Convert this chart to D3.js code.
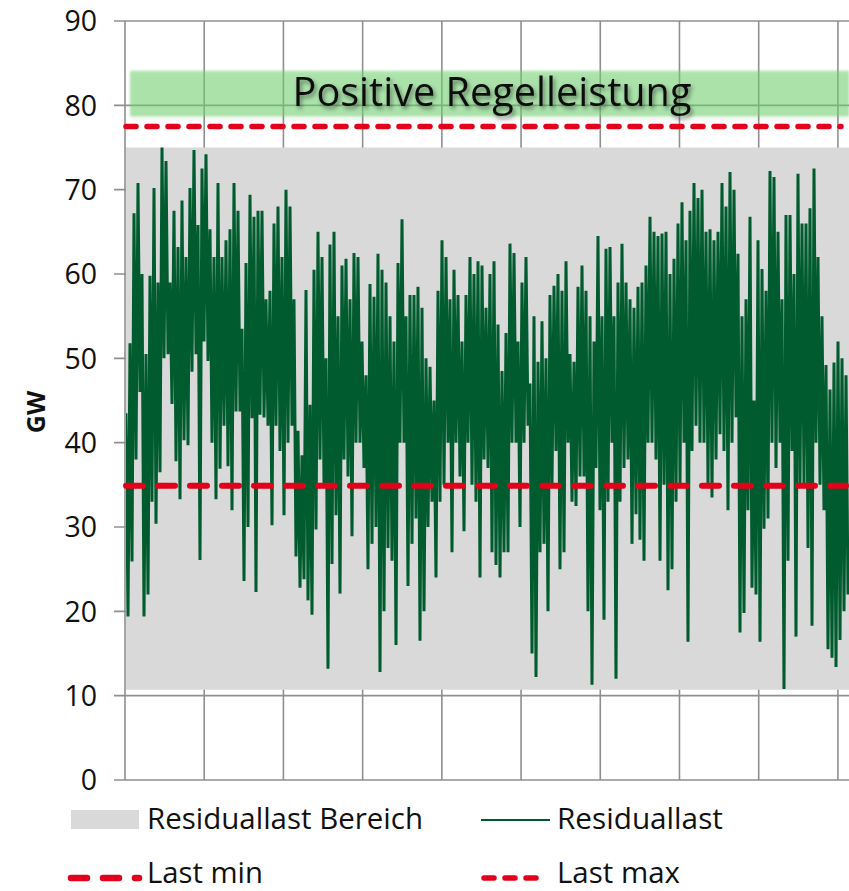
<!DOCTYPE html>
<html><head><meta charset="utf-8">
<script src="https://cdn.jsdelivr.net/npm/d3@7"></script>
<style>
html,body{margin:0;padding:0;background:#fff;}
svg{display:block;font-family:"Open Sans","Noto Sans",sans-serif;}
</style></head><body>
<svg id="chart" width="849" height="891"></svg>
<script>
// ---------------- data ----------------
const yTicks = [0, 10, 20, 30, 40, 50, 60, 70, 80, 90];
const xGridHours = [0, 1000, 2000, 3000, 4000, 5000, 6000, 7000, 8000, 9000];
const hourSpan = 9140;
const yLabel = "GW";
const bandTitle = "Positive Regelleistung";
const residualRange = [10.7, 75];      // Residuallast Bereich
const reserveBand = [78.7, 84.1];      // Positive Regelleistung
const lastMin = 34.9;
const lastMax = 77.5;
const legendLabels = ["Residuallast Bereich", "Residuallast", "Last min", "Last max"];

// Residuallast: upper and lower swing in each ~2-day window
const residualHigh = [
 43.5,51.8,67.2,70.8,60,50.5,59.8,70.2,59,75,73.4,59,67.5,63.2,68.7,62,70.2,74.7,65.8,72.5,
 74.2,65.3,62,70.8,62,64,65.3,70.8,67.5,53.5,61.3,69.4,66.8,67.5,67.5,57,58,66,68,62,
 70,68,57,41.4,38.5,58.1,44.5,60.5,65,62,50,63.5,65,55,61,61.8,57,62.5,62,52,
 48,58.8,57.3,62.4,60.5,59,55,52,61.3,66.5,55,57.5,57.5,58.5,56,50,49,45,58,64,
 62,57,60.5,57.5,52,57.5,62,60,61.5,61,56,60,61.5,54,48.5,53,63.6,62.5,52,59,
 62,47,55,49.6,54.4,50,57.5,58.6,60,58,61.5,50.5,49.6,58.5,61,58,55,52,64.5,55,
 63,63.2,55,59,63.6,59,57,56,58.5,59,61,66.8,65,64.5,64.8,65,60,61.8,66,68.5,
 64,67.5,70.8,69,70,65,65.3,64,65,70.8,68,72.1,70,62.4,55,57,66.8,45,64,60.6,
 58,72.2,71.5,65,57,67,67,60,71.9,66,66,67.8,72.5,62,55,49.2,46.3,49.5,52,50,48
];
const residualLow = [
 19.4,25.9,38,46,19.4,22,33,30.4,36.5,50,50.5,44.6,37.8,33.3,40.3,39.7,48.4,50.5,26.1,52,
 49.7,40,33.3,36.9,42,37.2,32,43.7,43.7,23.6,30,42.9,22.3,43.3,43,42,30.2,42,39,31.4,
 40,42,26.5,22.8,23.8,21.3,19.6,29.7,38,35,13.2,25.6,31.4,22.1,38,36,28.9,40,40,37,
 25,28,30,12.8,20,27.5,26,16,40,40,23,28,31,16.5,20,30,33,24,33,35,
 40,27,40,36,29.5,40,35,33,24,38,37,27,25.5,24,27,27,40,40,30,40,
 42,15,12.2,27,28,20,35,39,25,27,40,33,32.5,36,36,20,11.3,37,32,19,
 33,40,12,33,37,38,28,31.5,28.5,26,40,40,38,26,35,22.5,25,33,35,40,
 16.4,39,42,40,40,35,33.5,38,41,39,32,40,43,17.5,19.8,32,22.8,22,16.4,29.8,
 31,40,37,40,10.8,26,39,17,35,35,27.5,18.3,40,35,32,15.5,14.5,13.4,16.6,20,22
];

// ---------------- layout ----------------
const svg = d3.select("#chart");
const plot = {left: 125, right: 849, top: 21, bottom: 780};
const x = d3.scaleLinear().domain([0, hourSpan]).range([plot.left, plot.right]);
const y = d3.scaleLinear().domain([0, 90]).range([plot.bottom, plot.top]);
const gridColor = "#8f8f8f";
const red = "#e2001a";
const green = "#005c2e";

const defs = svg.append("defs");
defs.append("clipPath").attr("id", "plotClip").append("rect")
  .attr("x", plot.left + 1).attr("y", plot.top).attr("width", plot.right - plot.left).attr("height", plot.bottom - plot.top);
const fBand = defs.append("filter").attr("id", "bandShadow").attr("x", "-5%").attr("y", "-30%").attr("width", "110%").attr("height", "170%");
fBand.append("feGaussianBlur").attr("in", "SourceGraphic").attr("stdDeviation", 1.2).attr("result", "b");
fBand.append("feDropShadow").attr("in", "b").attr("dx", 1).attr("dy", 3).attr("stdDeviation", 2).attr("flood-color", "#000").attr("flood-opacity", 0.12);
const fText = defs.append("filter").attr("id", "textShadow").attr("x", "-10%").attr("y", "-30%").attr("width", "120%").attr("height", "170%");
fText.append("feDropShadow").attr("dx", 2).attr("dy", 3).attr("stdDeviation", 2).attr("flood-color", "#000").attr("flood-opacity", 0.45);

// gridlines
const grid = svg.append("g");
grid.selectAll("line.h").data(yTicks).join("line")
  .attr("x1", plot.left - 11).attr("x2", plot.right)
  .attr("y1", d => y(d)).attr("y2", d => y(d))
  .attr("stroke", gridColor).attr("stroke-width", 1.6);
grid.selectAll("line.v").data(xGridHours).join("line")
  .attr("x1", d => x(d)).attr("x2", d => x(d))
  .attr("y1", plot.top).attr("y2", plot.bottom)
  .attr("stroke", gridColor).attr("stroke-width", 1.6);

// y axis labels
const yAxis = d3.axisLeft(y).tickValues(yTicks).tickSize(0).tickPadding(0);
const gy = svg.append("g").attr("transform", `translate(${plot.left - 28},0)`).call(yAxis);
gy.select(".domain").remove();
gy.selectAll("text").style("font-size", "28.5px").attr("fill", "#111").style("font-family", '"Open Sans",sans-serif').attr("dy", "0.34em");

// gray range area
svg.append("rect")
  .attr("x", plot.left + 1).attr("width", plot.right - plot.left - 1)
  .attr("y", y(residualRange[1])).attr("height", y(residualRange[0]) - y(residualRange[1]))
  .attr("fill", "#d9d9d9");

// Residuallast line
const pts = [];
const step = hourSpan / residualHigh.length;
residualHigh.forEach((v, i) => {
  pts.push({h: i * step + step * 0.25, v: v});
  pts.push({h: i * step + step * 0.75, v: residualLow[i]});
});
svg.append("path").datum(pts)
  .attr("clip-path", "url(#plotClip)")
  .attr("d", d3.line().x(d => x(d.h)).y(d => y(d.v)))
  .attr("fill", "none").attr("stroke", green).attr("stroke-width", 3).attr("stroke-linejoin", "miter").attr("stroke-miterlimit", 1.4);

// red lines
svg.append("line")
  .attr("x1", plot.left + 1).attr("x2", plot.right - 3)
  .attr("y1", y(lastMin)).attr("y2", y(lastMin))
  .attr("stroke", red).attr("stroke-width", 6).attr("stroke-dasharray", "17,15").attr("stroke-linecap", "round");
svg.append("line")
  .attr("x1", plot.left + 1).attr("x2", plot.right - 8)
  .attr("y1", y(lastMax)).attr("y2", y(lastMax))
  .attr("stroke", red).attr("stroke-width", 5.5).attr("stroke-dasharray", "10,11").attr("stroke-linecap", "round");

// reserve band
svg.append("rect")
  .attr("x", plot.left + 5).attr("width", plot.right - plot.left - 5)
  .attr("y", y(reserveBand[1])).attr("height", y(reserveBand[0]) - y(reserveBand[1]))
  .attr("fill", "#6fd26f").attr("fill-opacity", 0.55)
  .attr("filter", "url(#bandShadow)");

function fitText(sel, target) {
  const fs = parseFloat(sel.style("font-size"));
  const w = sel.node().getComputedTextLength();
  if (w > 0) sel.style("font-size", (fs * target / w) + "px");
}

const title = svg.append("text")
  .attr("x", 492).attr("y", 106)
  .attr("text-anchor", "middle").style("font-size", "38px").attr("fill", "#111")
  .attr("filter", "url(#textShadow)")
  .text(bandTitle);
fitText(title, 399);

// y title
svg.append("text")
  .attr("x", 0).attr("y", 0)
  .attr("transform", "translate(36,412) rotate(-90)")
  .attr("text-anchor", "middle").attr("dy", "0.36em")
  .attr("font-size", 25).attr("font-weight", 700).attr("fill", "#111")
  .style("font-size", "25px").style("font-weight", "700")
  .text(yLabel);

// legend
const lg = svg.append("g");
lg.append("rect").attr("x", 71).attr("y", 810).attr("width", 68).attr("height", 19).attr("fill", "#d9d9d9");
lg.append("line").attr("x1", 481).attr("x2", 550).attr("y1", 820).attr("y2", 820).attr("stroke", green).attr("stroke-width", 2);
lg.append("line").attr("x1", 71).attr("x2", 139).attr("y1", 878).attr("y2", 878)
  .attr("stroke", red).attr("stroke-width", 6.5).attr("stroke-dasharray", "16,16").attr("stroke-linecap", "round");
lg.append("line").attr("x1", 484).attr("x2", 547).attr("y1", 878).attr("y2", 878)
  .attr("stroke", red).attr("stroke-width", 5.5).attr("stroke-dasharray", "10,11").attr("stroke-linecap", "round");
const lx = [147, 557, 147, 557];
const ly = [829, 829, 883, 883];
const lw = [276, 166, 116, 123];
legendLabels.forEach((t, i) => {
  const s = lg.append("text").attr("x", lx[i]).attr("y", ly[i]).style("font-size", "29px").attr("fill", "#111").text(t);
  fitText(s, lw[i]);
});
</script>
</body></html>
